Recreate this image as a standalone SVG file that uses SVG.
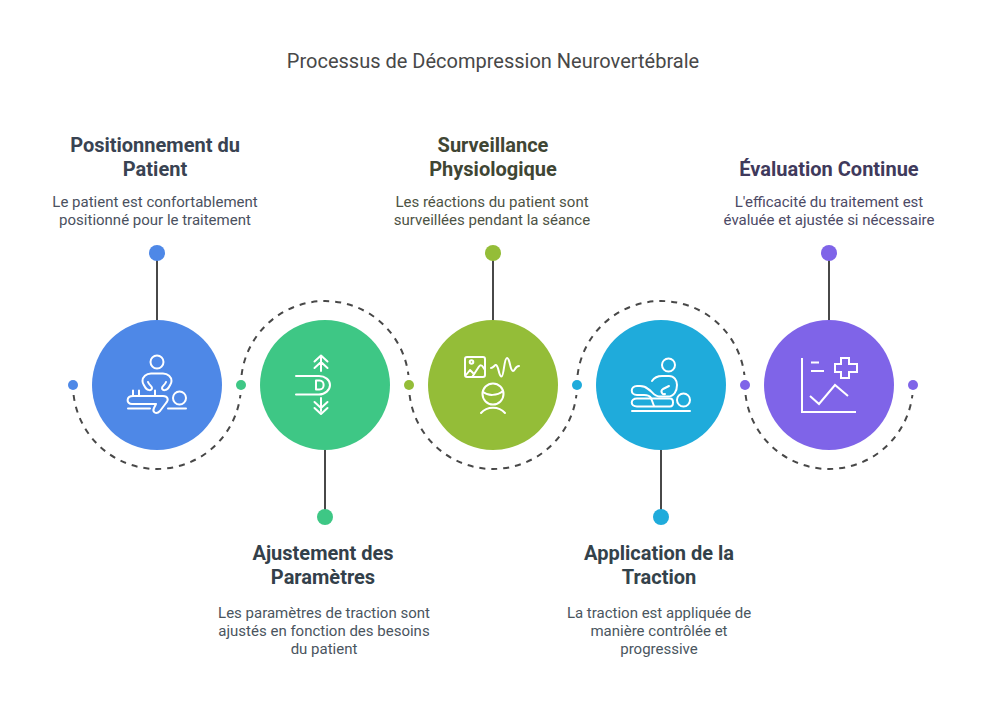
<svg xmlns="http://www.w3.org/2000/svg" width="986" height="722" viewBox="0 0 986 722">
<style>
text{font-family:Roboto,"Liberation Sans",sans-serif;text-anchor:middle}
.t{font-size:20px;fill:#484848}
.h{font-size:20px;font-weight:700}
.d{font-size:15px}
.stem{stroke:#484848;stroke-width:2;fill:none}
.arc{stroke:#484848;stroke-width:2;fill:none;stroke-dasharray:6 6}
.ic{stroke:#fff;stroke-width:2;fill:none;stroke-linecap:round;stroke-linejoin:round}
</style>
<rect width="986" height="722" fill="#fff"/>
<text class="t" x="493" y="68">Processus de Décompression Neurovertébrale</text>
<g id="connectors">
<path class="arc" d="M73.600 395A84 84 0 0 0 240.400 395"/>
<path class="arc" d="M241.600 375A84 84 0 0 1 408.400 375"/>
<path class="arc" d="M409.600 395A84 84 0 0 0 576.400 395"/>
<path class="arc" d="M577.600 375A84 84 0 0 1 744.400 375"/>
<path class="arc" d="M745.600 395A84 84 0 0 0 912.400 395"/>
<path class="stem" d="M157 253V320M325 450V517M493 253V320M661 450V517M829 253V320"/>
</g>
<g id="node1">
<circle cx="73" cy="385" r="5" fill="#4e88e7"/>
<circle cx="157" cy="253" r="8" fill="#4e88e7"/>
<circle cx="157" cy="385" r="65" fill="#4e88e7"/>
<g class="ic">
<circle cx="157" cy="362" r="6.500"/>
<path d="M151 373.500H163C168 373.500 171.500 377 171.500 381C171.500 384 170 385 169 387C167 391 162 391 162 388C162 386 165 385 166 382M151 373.500C146 373.500 142.500 377 142.500 381C142.500 384 144 385 145 387C147 391 152 391 152 388C152 386 149 385 148 382"/>
<path d="M133 396V390.500M139 396V390.500M155 396V390.500"/>
<path d="M133 396H163C168 396 169 400 166 403L160 411C156 415 152 412 154 408L156 404H132C126 404 126 396 133 396Z"/>
<circle cx="179.500" cy="398" r="6.500"/>
<path d="M128 408.500H150M168 408.500H186"/>
</g>
<text class="h" fill="#394352"><tspan x="155" y="152">Positionnement du</tspan><tspan x="155" y="176">Patient</tspan></text>
<text class="d" fill="#4a5160"><tspan x="155" y="207">Le patient est confortablement</tspan><tspan x="155" y="225">positionné pour le traitement</tspan></text>
</g>
<g id="node2">
<circle cx="241" cy="385" r="5" fill="#3ec785"/>
<circle cx="325" cy="517" r="8" fill="#3ec785"/>
<circle cx="325" cy="385" r="65" fill="#3ec785"/>
<g class="ic">
<path d="M296 376H319C325 376 330 380 330 385C330 390 325 394.500 319 394.500H296"/>
<path d="M316 380.500H319.500C325 380.500 325 389.500 319.500 389.500H316Z"/>
<path d="M321 358V371M314.500 361.500L321 355.500L327.500 361.500M314.500 368L321 362L327.500 368"/>
<path d="M321 398V411M314.500 402L321 408L327.500 402M314.500 408L321 414L327.500 408"/>
</g>
<text class="h" fill="#33404a"><tspan x="323" y="560">Ajustement des</tspan><tspan x="323" y="584">Paramètres</tspan></text>
<text class="d" fill="#4a5560"><tspan x="324" y="618">Les paramètres de traction sont</tspan><tspan x="324" y="636">ajustés en fonction des besoins</tspan><tspan x="324" y="654">du patient</tspan></text>
</g>
<g id="node3">
<circle cx="409" cy="385" r="5" fill="#94bd38"/>
<circle cx="493" cy="253" r="8" fill="#94bd38"/>
<circle cx="493" cy="385" r="65" fill="#94bd38"/>
<g class="ic">
<rect x="465" y="357" width="20" height="20" rx="2"/>
<circle cx="471.500" cy="362" r="1.800"/>
<path d="M472.500 376.500L479 366.500Q481 364 483 367L485 370"/>
<path d="M466 375L470 370L473 373"/>
<path d="M491 368C494 368 495 363 497 366C499 369 499 376.500 501.500 376.500C504 376.500 504 358 507 358C510 358 510 371 513 371C515 371 515 366 519 366"/>
<circle cx="493" cy="394" r="10.500"/>
<path d="M483 392C488 396 497 396 503 391"/>
<path d="M481 413C487 406 499 406 505 413"/>
</g>
<text class="h" fill="#3f4634"><tspan x="493" y="152">Surveillance</tspan><tspan x="493" y="176">Physiologique</tspan></text>
<text class="d" fill="#4d5344"><tspan x="492" y="207">Les réactions du patient sont</tspan><tspan x="492" y="225">surveillées pendant la séance</tspan></text>
</g>
<g id="node4">
<circle cx="577" cy="385" r="5" fill="#1fabdb"/>
<circle cx="661" cy="517" r="8" fill="#1fabdb"/>
<circle cx="661" cy="385" r="65" fill="#1fabdb"/>
<g class="ic">
<circle cx="668.500" cy="365" r="6.500"/>
<path d="M652 381C654 378 658 376 662 376H669C674 376 677 380 677 385C677 391 674 396.500 668 396.500H659C654 396.500 652 391 648 389C646 387 643 386 640 386H637C630 386 630 395 637 395H644C648 395 650 396 651 398L654 406"/>
<path d="M669 386L663 389C660 391 662 395 665 394"/>
<path d="M637 398.500H670C674 398.500 674 406.500 670 406.500H637C630 406.500 630 398.500 637 398.500Z"/>
<circle cx="683.500" cy="400" r="6.500"/>
<path d="M632 411H690"/>
</g>
<text class="h" fill="#33424a"><tspan x="659" y="560">Application de la</tspan><tspan x="659" y="584">Traction</tspan></text>
<text class="d" fill="#4a5660"><tspan x="659" y="618">La traction est appliquée de</tspan><tspan x="659" y="636">manière contrôlée et</tspan><tspan x="659" y="654">progressive</tspan></text>
</g>
<g id="node5">
<circle cx="745" cy="385" r="5" fill="#7f64e8"/>
<circle cx="913" cy="385" r="5" fill="#7f64e8"/>
<circle cx="829" cy="253" r="8" fill="#7f64e8"/>
<circle cx="829" cy="385" r="65" fill="#7f64e8"/>
<g class="ic" style="stroke-linecap:butt;stroke-linejoin:miter">
<path d="M802 358V412H856"/>
<path d="M811 362.500H819M811 371H824"/>
<path d="M841 358H849V364H857V372H849V378H841V372H835V364H841Z"/>
<path d="M810 396L819 404L835 385L848 396"/>
</g>
<text class="h" fill="#3f3a5c"><tspan x="829" y="176">Évaluation Continue</tspan></text>
<text class="d" fill="#4c4a66"><tspan x="829" y="207">L'efficacité du traitement est</tspan><tspan x="829" y="225">évaluée et ajustée si nécessaire</tspan></text>
</g>
</svg>
